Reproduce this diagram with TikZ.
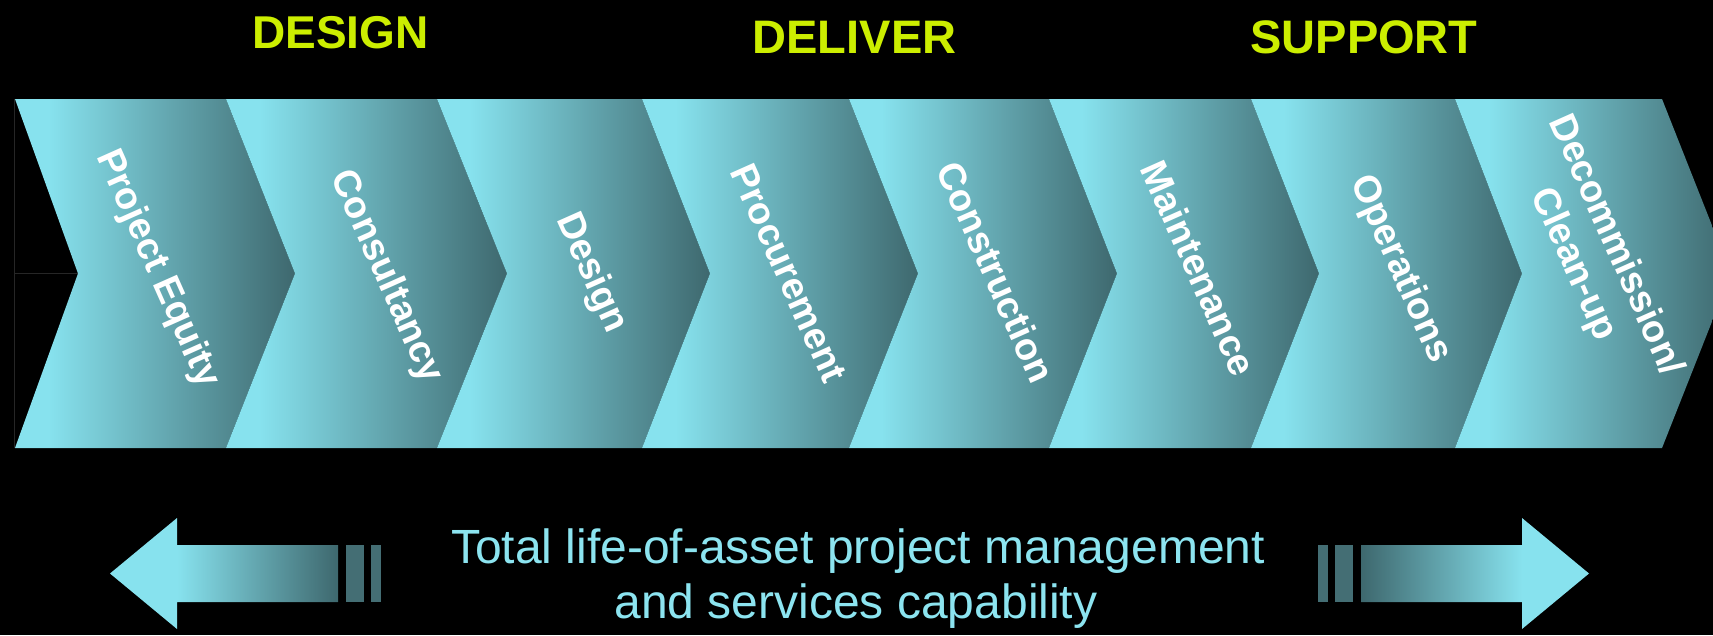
\documentclass[tikz,border=0pt]{standalone}
\usepackage{fontspec}
\setmainfont{Liberation Sans}

% palette
\definecolor{cLight}{RGB}{135,226,238}
\definecolor{cDark}{RGB}{62,104,110}
\definecolor{barTeal}{RGB}{68,110,116}
\definecolor{phaseGreen}{RGB}{204,238,0}
\definecolor{capCyan}{RGB}{140,228,240}
\definecolor{edgeGray}{RGB}{38,38,38}

% horizontal fades (the 25bp..75bp band is stretched over the filled shape)
\pgfdeclarehorizontalshading{chevfade}{100bp}{color(0bp)=(cLight); color(25bp)=(cLight); color(31bp)=(cLight); color(75bp)=(cDark); color(100bp)=(cDark)}
\pgfdeclarehorizontalshading{arrowfadeL}{100bp}{color(0bp)=(cLight); color(25bp)=(cLight); color(39.7bp)=(cLight); color(75bp)=(cDark); color(100bp)=(cDark)}
\pgfdeclarehorizontalshading{arrowfadeR}{100bp}{color(0bp)=(cDark); color(25bp)=(cDark); color(60.3bp)=(cLight); color(75bp)=(cLight); color(100bp)=(cLight)}

\begin{document}
\begin{tikzpicture}[x=1pt,y=-1pt,
  stage/.style={text=white,font=\bfseries\fontsize{38}{46}\selectfont,
    rotate=-66,align=center,inner sep=0pt},
  phase/.style={text=phaseGreen,font=\bfseries\fontsize{47}{50}\selectfont,
    anchor=base,inner sep=0pt},
  caption/.style={text=capCyan,font=\fontsize{48}{55}\selectfont,
    anchor=base,inner sep=0pt},
  chev/.style={shading=chevfade},
  bar/.style={fill=barTeal}]

\useasboundingbox (0,0) rectangle (1713,635);
\fill[black] (0,0) rectangle (1713,635);
\clip (0,0) rectangle (1713,635);

% faint frame lines at the left end
\draw[edgeGray,line width=1pt] (14,99) -- (14,448);
\draw[edgeGray,line width=1pt] (14,273.5) -- (78,273.5);

% chevron band
\shade[chev] (15,99) -- (226,99) -- (295,273.5) -- (226,448) -- (15,448) -- (78,273.5) -- cycle;
\shade[chev] (226,99) -- (437,99) -- (507,273.5) -- (437,448) -- (226,448) -- (295,273.5) -- cycle;
\shade[chev] (437,99) -- (642,99) -- (710,273.5) -- (642,448) -- (437,448) -- (507,273.5) -- cycle;
\shade[chev] (642,99) -- (849,99) -- (918,273.5) -- (849,448) -- (642,448) -- (710,273.5) -- cycle;
\shade[chev] (849,99) -- (1049,99) -- (1117,273.5) -- (1049,448) -- (849,448) -- (918,273.5) -- cycle;
\shade[chev] (1049,99) -- (1251,99) -- (1319,273.5) -- (1251,448) -- (1049,448) -- (1117,273.5) -- cycle;
\shade[chev] (1251,99) -- (1455,99) -- (1522,273.5) -- (1455,448) -- (1251,448) -- (1319,273.5) -- cycle;
\shade[chev] (1455,99) -- (1662,99) -- (1731,273.5) -- (1662,448) -- (1455,448) -- (1522,273.5) -- cycle;

% stage labels
\node[stage] (equity)    at (157,269)  {Project Equity};
\node[stage] (consult)   at (386,277)  {Consultancy};
\node[stage] (design)    at (591,273)  {Design};
\node[stage] (procure)   at (789,273)  {Procurement};
\node[stage] (construct) at (996,272)  {Construction};
\node[stage] (maint)     at (1199,268) {Maintenance};
\node[stage] (ops)       at (1400,269) {Operations};
\node[stage] (decom)     at (1594,255) {Decommission/\\Clean-up};

% phase headings
\node[phase,font=\bfseries\fontsize{46}{50}\selectfont] (pDesign) at (340.5,48) {DESIGN};
\node[phase] (pDeliver) at (854.5,53) {DELIVER};
\node[phase] (pSupport) at (1364,53) {SUPPORT};

% left arrow with trailing bars
\shade[shading=arrowfadeL] (110,573.5) -- (177,518) -- (177,545) -- (338,545)
  -- (338,602) -- (177,602) -- (177,629) -- cycle;
\fill[bar] (346,545) rectangle (364,602);
\fill[bar] (371,545) rectangle (381,602);

% right arrow with leading bars
\shade[shading=arrowfadeR] (1589,573.5) -- (1522,518) -- (1522,545) -- (1361,545)
  -- (1361,602) -- (1522,602) -- (1522,629) -- cycle;
\fill[bar] (1318,545) rectangle (1328,602);
\fill[bar] (1335,545) rectangle (1353,602);

% caption between the arrows
\node[caption] (lifeA) at (858,563) {Total life-of-asset project management};
\node[caption] (lifeB) at (856,618) {and services capability};
\end{tikzpicture}
\end{document}
